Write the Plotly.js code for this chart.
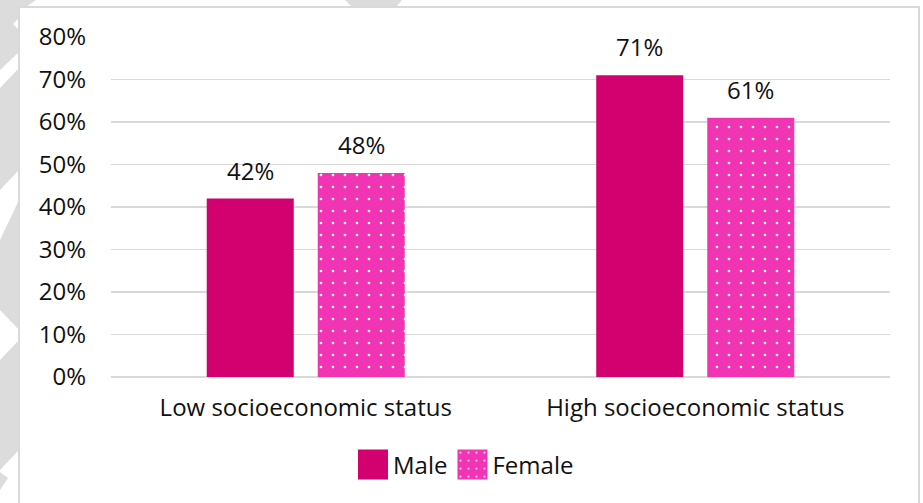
<!DOCTYPE html>
<html>
<head>
<meta charset="utf-8">
<script src="https://cdn.plot.ly/plotly-3.0.1.min.js"></script>
<style>
  html, body { margin: 0; padding: 0; background: #ffffff; }
  #chart { width: 923px; height: 503px; }
</style>
</head>
<body>
<div id="chart"></div>
<script>
// Share of respondents, by socioeconomic status and sex
const categories = ['Low socioeconomic status', 'High socioeconomic status'];
const seriesNames = ['Male', 'Female'];
const maleValues = [0.42, 0.71];
const femaleValues = [0.48, 0.61];
const yTickValues = [0, 0.1, 0.2, 0.3, 0.4, 0.5, 0.6, 0.7, 0.8];

const MALE_COLOR = '#D3006F';
const FEMALE_COLOR = '#F134B3';
const FONT = '"Open Sans", "Noto Sans", sans-serif';
const FONT_SIZE = 24;
const TEXT_COLOR = '#111111';
const GRID_COLOR = '#d9d9d9';

const W = 923, H = 503;
const M = { l: 111, r: 33, t: 37, b: 126 };
const plotW = W - M.l - M.r;
const plotH = H - M.t - M.b;
const BARGAP = 0.43;
const GROUPGAP = 0.216;

// pixel -> paper helpers for the frame and background decoration
const px = v => (v - M.l) / plotW;
const py = v => (H - M.b - v) / plotH;
const poly = pts => 'M' + pts.map(p => px(p[0]) + ',' + py(p[1])).join(' L') + ' Z';

const DECOR_GREY = '#dcdcdc';
const decorPolys = [
  [[0, 0], [36, 0], [26, 7], [19, 7], [19, 52], [0, 70]],
  [[345, 0], [402, 0], [396, 7], [352, 7]],
  [[0, 88], [19, 68], [19, 170], [0, 190]],
  [[0, 240], [19, 200], [19, 330], [0, 310]],
  [[19, 340], [19, 450], [0, 470], [0, 360]],
  [[0, 472], [8, 478], [0, 490]]
];
const shapes = decorPolys.map(pts => ({
  type: 'path', xref: 'paper', yref: 'paper', layer: 'below',
  path: poly(pts), fillcolor: DECOR_GREY, line: { width: 0 }
}));
// small notch in the top band
shapes.push({
  type: 'path', xref: 'paper', yref: 'paper', layer: 'below',
  path: poly([[19, 18], [13, 24], [19, 30]]), fillcolor: '#ffffff', line: { width: 0 }
});
// white chart frame
shapes.push({
  type: 'rect', xref: 'paper', yref: 'paper', layer: 'below',
  x0: px(19), x1: px(919), y0: py(7), y1: py(H + 10),
  fillcolor: '#ffffff', line: { color: GRID_COLOR, width: 2 }
});

const pct = v => Math.round(v * 100) + '%';

const traces = [
  {
    type: 'bar', name: seriesNames[0], x: categories, y: maleValues,
    marker: { color: MALE_COLOR, line: { width: 0 } },
    hoverinfo: 'skip'
  },
  {
    type: 'bar', name: seriesNames[1], x: categories, y: femaleValues,
    marker: {
      color: FEMALE_COLOR, line: { width: 0 },
      pattern: { shape: '.', size: 12, solidity: 0.04, fgcolor: '#ffffff', bgcolor: FEMALE_COLOR, fillmode: 'replace' }
    },
    hoverinfo: 'skip'
  }
];

// value labels above each bar, offset sideways to sit over the grouped bars
const slot = (plotW / categories.length) * (1 - BARGAP) / 2;
const annotations = [];
[maleValues, femaleValues].forEach((vals, si) => {
  vals.forEach((v, i) => {
    annotations.push({
      x: categories[i], y: v, xref: 'x', yref: 'y',
      text: pct(v), showarrow: false,
      xanchor: 'center', yanchor: 'bottom',
      xshift: (si === 0 ? -1 : 1) * slot / 2, yshift: 10,
      font: { family: FONT, size: FONT_SIZE, color: TEXT_COLOR }
    });
  });
});

const layout = {
  width: W, height: H,
  margin: M,
  paper_bgcolor: '#ffffff',
  plot_bgcolor: 'rgba(0,0,0,0)',
  barmode: 'group',
  bargap: BARGAP,
  bargroupgap: GROUPGAP,
  showlegend: true,
  legend: {
    orientation: 'h', x: px(466), xanchor: 'center', y: py(465), yanchor: 'middle',
    font: { family: FONT, size: FONT_SIZE, color: TEXT_COLOR },
    bgcolor: 'rgba(0,0,0,0)', itemclick: false, itemdoubleclick: false
  },
  xaxis: {
    type: 'category', showgrid: false, zeroline: false, showline: false,
    ticks: '', ticklabelstandoff: 14,
    tickfont: { family: FONT, size: FONT_SIZE, color: TEXT_COLOR }
  },
  yaxis: {
    range: [0, 0.8], tickvals: yTickValues, tickformat: '.0%',
    showgrid: true, gridcolor: GRID_COLOR, gridwidth: 1.5,
    zeroline: true, zerolinecolor: GRID_COLOR, zerolinewidth: 1.5,
    showline: false, ticks: '', ticklabelstandoff: 24,
    tickfont: { family: FONT, size: FONT_SIZE, color: TEXT_COLOR }
  },
  shapes: shapes,
  annotations: annotations,
  font: { family: FONT, color: TEXT_COLOR }
};

Plotly.newPlot('chart', traces, layout, { staticPlot: true, displayModeBar: false }).then(gd => {
  // larger square swatches in the legend
  gd.querySelectorAll('.legend .legendpoints path').forEach(p => {
    p.setAttribute('d', 'M15,15H-15V-15H15Z');
  });
});
</script>
</body>
</html>
